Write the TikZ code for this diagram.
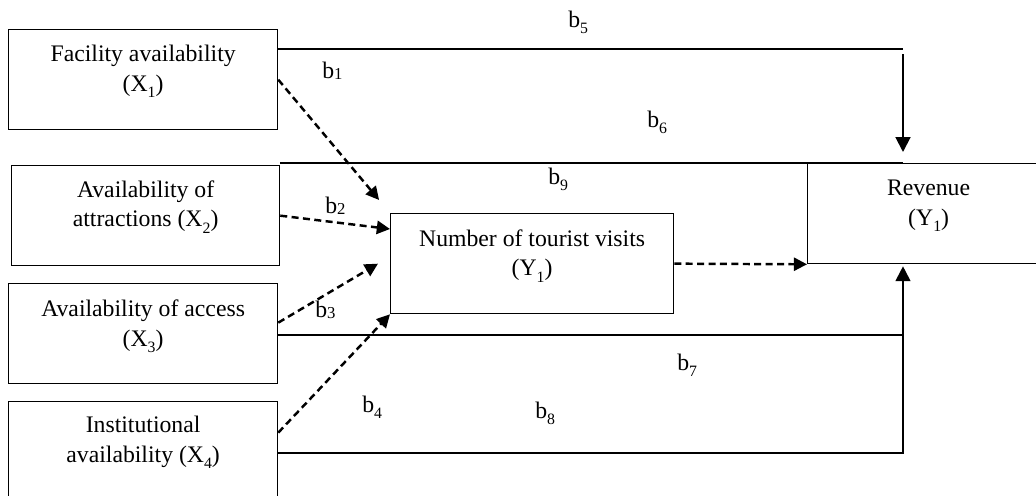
\documentclass[tikz,border=0pt]{standalone}
\usepackage{fontspec}
\setmainfont{Liberation Serif}
\usetikzlibrary{arrows.meta, positioning}
\tikzset{
    box/.style={draw=black, rectangle, line width=0.75pt, inner sep=0pt},
    boxtext/.style={align=center, inner sep=0pt, font=\fontsize{13.5}{17}\selectfont},
    coeff/.style={anchor=base west, inner sep=0pt, font=\fontsize{13.5}{17}\selectfont},
    path_line/.style={draw=black, line width=1.1pt},
    path_arrow/.style={draw=black, line width=1.1pt, -{Triangle[length=8.5pt,width=8.5pt]}},
    dash_arrow/.style={draw=black, line width=1.4pt, dash pattern=on 4pt off 2.5pt, -{Triangle[length=7.5pt,width=7.5pt]}}
}
\newcommand{\subx}[1]{\raisebox{-3.5pt}{\fontsize{9}{9}\selectfont #1}}
\newcommand{\subb}[1]{\raisebox{-1pt}{\fontsize{9.5}{9.5}\selectfont #1}}

\begin{document}
\begin{tikzpicture}[x=0.02cm, y=-0.02cm]

        % cornice della figura
        \useasboundingbox (0,0) rectangle (1036,495);
        \clip (0,0) rectangle (1036,495);

        % -----------------------------------------------------------------
        % VARIABILI INDIPENDENTI
        % -----------------------------------------------------------------
        \node (facility) [box, anchor=north west, minimum width=5.38cm, minimum height=2cm] at (8,29) {};
        \node (attraction) [box, anchor=north west, minimum width=5.36cm, minimum height=2cm] at (11,165) {};
        \node (access) [box, anchor=north west, minimum width=5.38cm, minimum height=2cm] at (8,283) {};
        \node (institution) [box, anchor=north west, minimum width=5.38cm, minimum height=2cm] at (8,401) {};

        \node (facility_txt) [boxtext] at ([yshift=0.16cm]facility.center) {Facility availability\\(X\subx{1})};
        \node (attraction_txt) [boxtext] at ([yshift=0.18cm]attraction.center) {Availability of\\attractions (X\subx{2})};
        \node (access_txt) [boxtext] at ([yshift=0.15cm]access.center) {Availability of access\\(X\subx{3})};
        \node (institution_txt) [boxtext] at ([yshift=0.18cm]institution.center) {Institutional\\availability (X\subx{4})};

        % -----------------------------------------------------------------
        % VARIABILI DIPENDENTI
        % -----------------------------------------------------------------
        \node (tourist) [box, anchor=north west, minimum width=5.66cm, minimum height=2cm] at (390,213) {};
        \node (revenue) [box, anchor=north west, minimum width=4.84cm, minimum height=2cm] at (807,163) {};

        \node (tourist_txt) [boxtext] at ([yshift=0.16cm]tourist.center) {Number of tourist visits\\(Y\subx{1})};
        \node (revenue_txt) [boxtext] at ([yshift=0.15cm]revenue.center) {Revenue\\(Y\subx{1})};

        % -----------------------------------------------------------------
        % PERCORSI DIRETTI VERSO REVENUE
        % -----------------------------------------------------------------
        \coordinate (b5_corner) at (903,49);
        \coordinate (rev_col) at (903,453);

        \draw[path_line] (facility.east |- b5_corner) -- (b5_corner);
        \draw[path_arrow] ([yshift=-0.1cm]b5_corner) -- ([yshift=0.22cm]revenue.north -| b5_corner);
        \draw[path_line] (attraction.north east |- revenue.north) -- (revenue.north -| b5_corner);
        \draw[path_line] (access.east |- 0,335) -- (rev_col |- 0,335);
        \draw[path_arrow] (institution.east |- rev_col) -- (rev_col) -- ([yshift=-0.04cm]revenue.south -| rev_col);

        % -----------------------------------------------------------------
        % PERCORSI TRATTEGGIATI (MEDIAZIONE)
        % -----------------------------------------------------------------
        \draw[dash_arrow, shorten >=0.34cm] (facility.east) -- (tourist.north west);
        \draw[dash_arrow] (attraction.east) -- ([yshift=-0.32cm]tourist.north west);
        \draw[dash_arrow] ([yshift=0.22cm]access.east) -- ([xshift=-0.24cm]tourist.west);
        \draw[dash_arrow] ([yshift=0.38cm]institution.east) -- (tourist.south west);
        \draw[dash_arrow] (tourist.east) -- (revenue.south west);

        % -----------------------------------------------------------------
        % COEFFICIENTI
        % -----------------------------------------------------------------
        \node (lb1) [coeff] at (322,78) {b\subb{1}};
        \node (lb2) [coeff] at (325,213) {b\subb{2}};
        \node (lb3) [coeff] at (315,317) {b\subb{3}};
        \node (lb4) [coeff] at (362,412) {b\subx{4}};
        \node (lb5) [coeff] at (568,27) {b\subx{5}};
        \node (lb6) [coeff] at (647,127) {b\subx{6}};
        \node (lb9) [coeff] at (548,184) {b\subx{9}};
        \node (lb7) [coeff] at (677,370) {b\subx{7}};
        \node (lb8) [coeff] at (535,418) {b\subx{8}};

\end{tikzpicture}
\end{document}
